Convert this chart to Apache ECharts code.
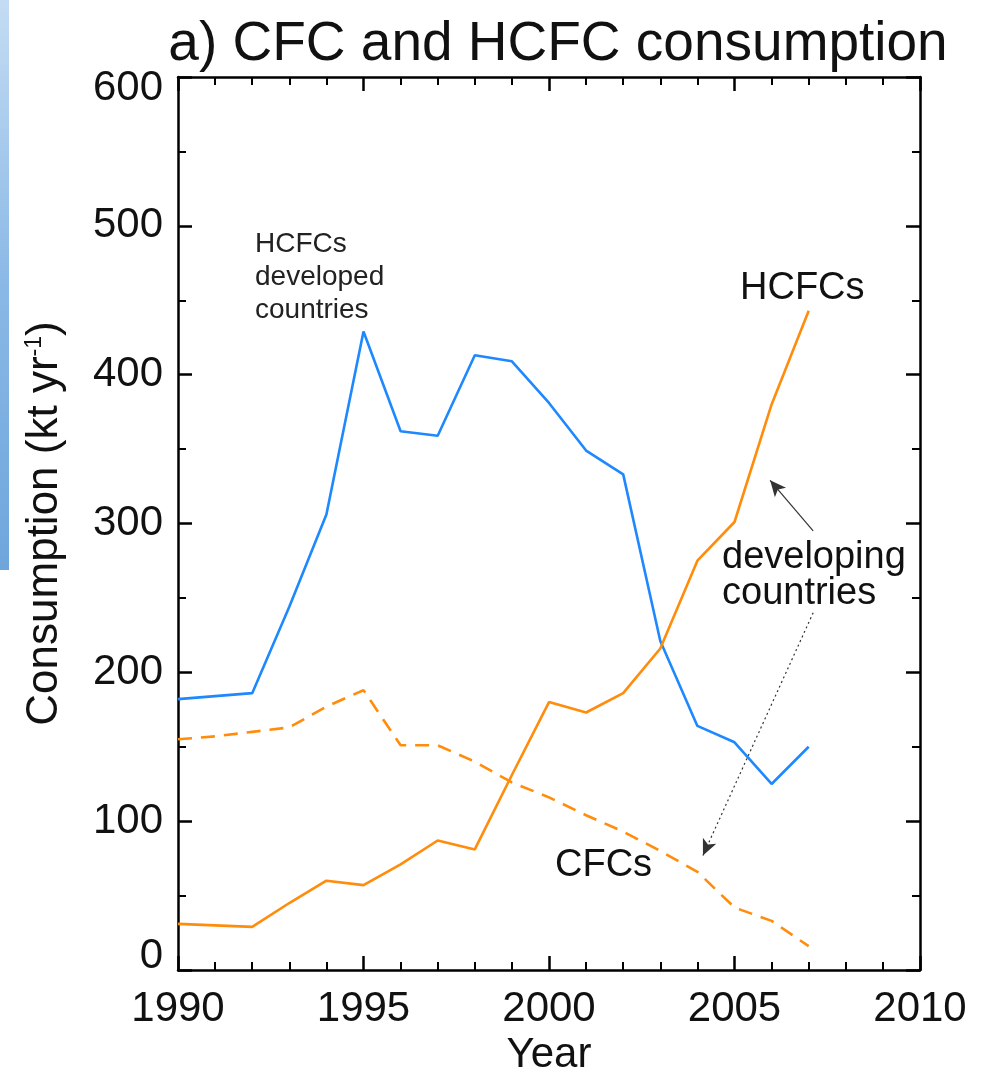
<!DOCTYPE html>
<html>
<head>
<meta charset="utf-8">
<script src="https://cdn.jsdelivr.net/npm/echarts@6/dist/echarts.min.js"></script>
<style>
html,body{margin:0;padding:0;background:#fff;}
#chart{width:994px;height:1076px;}
</style>
</head>
<body>
<div id="chart"></div>
<script>
const years = [1990,1991,1992,1993,1994,1995,1996,1997,1998,1999,2000,2001,2002,2003,2004,2005,2006,2007];
const hcfcDeveloped = [182,184,186,244,306,429,362,359,413,409,381,349,333,221,164,153,125,150];
const hcfcDeveloping = [31,30,29,45,60,57,71,87,81,131,180,173,186,216,275,301,380,443];
const cfcDeveloping = [155,157,160,163,177,188,151,151,140,126,116,104,93,80,66,42,33,16];
const xTicks = [1990,1995,2000,2005,2010];
const yTicks = [0,100,200,300,400,500,600];

const FONT = '"Liberation Sans", Arial, Helvetica, sans-serif';
const chart = echarts.init(document.getElementById('chart'), null, {renderer:'canvas'});

function pairs(ys){ return years.map((y,i)=>[y, ys[i]]); }

const axisLineStyle = {color:'#000', width:2.5};
const baseX = {
  type:'value', min:xTicks[0], max:xTicks[xTicks.length-1], interval:5,
  axisLine:{show:true, onZero:false, lineStyle:axisLineStyle},
  axisTick:{show:true, inside:true, length:14, lineStyle:{color:'#000', width:2.5}},
  minorTick:{show:true, splitNumber:5, length:8, lineStyle:{color:'#000', width:2}},
  splitLine:{show:false}, minorSplitLine:{show:false}
};
const baseY = {
  type:'value', min:yTicks[0], max:yTicks[yTicks.length-1], interval:100,
  axisLine:{show:true, onZero:false, lineStyle:axisLineStyle},
  axisTick:{show:true, inside:true, length:14, lineStyle:{color:'#000', width:2.5}},
  minorTick:{show:true, splitNumber:2, length:8, lineStyle:{color:'#000', width:2}},
  splitLine:{show:false}, minorSplitLine:{show:false}
};

const yMin = yTicks[0], yMax = yTicks[yTicks.length-1];

const option = {
  backgroundColor:'#fff',
  animation:false,
  title:{
    text:'a) CFC and HCFC consumption',
    left:553, top:12, textAlign:'center',
    textStyle:{fontFamily:FONT, fontSize:55, fontWeight:'normal', color:'#111'}
  },
  grid:{left:178, right:74, top:77, bottom:106, outerBoundsMode:'none', containLabel:false},
  xAxis:[
    Object.assign({}, baseX, {
      position:'bottom',
      name:'Year', nameLocation:'middle', nameGap:58,
      nameTextStyle:{fontFamily:FONT, fontSize:42, color:'#111'},
      axisLabel:{show:true, margin:18, fontFamily:FONT, fontSize:42, color:'#111',
        formatter:v=>xTicks.includes(v)?String(v):''}
    }),
    Object.assign({}, baseX, {position:'top', axisLabel:{show:false}})
  ],
  yAxis:[
    Object.assign({}, baseY, {
      position:'left',
      name:'Consumption (kt yr{sup|-1})', nameLocation:'middle', nameGap:111, nameRotate:90,
      nameTextStyle:{fontFamily:FONT, fontSize:44, color:'#111',
        rich:{sup:{fontFamily:FONT, fontSize:23, color:'#111', verticalAlign:'top', padding:[0,0,19,0]}}},
      axisLabel:{show:true, margin:15, fontFamily:FONT, fontSize:42, color:'#111',
        formatter:v=> v===yMin ? '{lo|'+v+'}' : (v===yMax ? '{hi|'+v+'}' : String(v)),
        rich:{
          lo:{fontFamily:FONT, fontSize:42, color:'#111', padding:[0,0,28,0]},
          hi:{fontFamily:FONT, fontSize:42, color:'#111', padding:[22,0,0,0]}
        }}
    }),
    Object.assign({}, baseY, {position:'right', axisLabel:{show:false}})
  ],
  series:[
    {
      name:'HCFCs developed', type:'line', data:pairs(hcfcDeveloped),
      symbol:'none', lineStyle:{color:'#1e88ff', width:2.6}, z:3
    },
    {
      name:'HCFCs developing', type:'line', data:pairs(hcfcDeveloping),
      symbol:'none', lineStyle:{color:'#ff8c0a', width:2.6}, z:3
    },
    {
      name:'CFCs developing', type:'line', data:pairs(cfcDeveloping),
      symbol:'none', lineStyle:{color:'#ff8c0a', width:2.6, type:[14,9]}, z:3,
      markLine:{
        silent:true, symbol:['none','arrow'], symbolSize:[11,16],
        label:{show:false},
        data:[
          [{coord:[2007.12,295], lineStyle:{color:'#333', width:1.2, type:'solid'}},
           {coord:[2005.96,329]}],
          [{coord:[2007.12,240], lineStyle:{color:'#333', width:1.2, type:[2,3]}},
           {coord:[2004.15,77]}]
        ]
      }
    }
  ],
  graphic:[
    {type:'rect', left:0, top:0, z:0, shape:{width:9, height:570},
     style:{fill:new echarts.graphic.LinearGradient(0,0,0,1,[
       {offset:0,color:'#c4dcf3'},{offset:0.5,color:'#8ab8e6'},{offset:1,color:'#6ea6dc'}])}},
    {type:'text', left:255, top:228, z:10,
     style:{text:'HCFCs\ndeveloped\ncountries', font:'28px '+FONT, fill:'#222', lineHeight:33}},
    {type:'text', left:740, top:270, z:10,
     style:{text:'HCFCs', font:'38px '+FONT, fill:'#111'}},
    {type:'text', left:722, top:539, z:10,
     style:{text:'developing\ncountries', font:'38px '+FONT, fill:'#111', lineHeight:36}},
    {type:'text', left:555, top:847, z:10,
     style:{text:'CFCs', font:'38px '+FONT, fill:'#111'}}
  ]
};
chart.setOption(option);
</script>
</body>
</html>
